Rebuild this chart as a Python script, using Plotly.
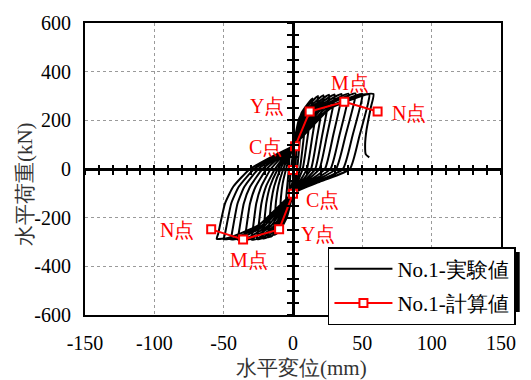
import plotly.graph_objects as go

# ---- experimental hysteresis (No.1-実験値), read cycle by cycle ----
exp_x = [
    0, 1.4, 3, 2.2, 1.5, 0, -1.4, -3, -2.2, -1.5,
    -0.8, 0, 2.7, 6, 5.8, 4.5, 3, 1.5, 0, -2.7, -6, -5.8, -4.5, -3,
    -2.5, 0, 4.5, 10, 9.75, 7.5, 5, 2.5, 0, -4.5, -8.5, -10, -9.8, -8.75, -7.5, -5,
    -2.5, 0, 6.3, 14, 13.65, 10.5, 7, 3.5, 0, -6.3, -11.9, -14, -13.7, -12.25, -10.5, -7,
    -3.5, 0, 8.1, 18, 17.6, 14, 10, 5, 0, -8.1, -15.3, -18, -17.6, -15.75, -13.5, -9,
    -4.5, 0, 9.9, 22, 21.55, 17.5, 13, 6.5, 0, -9.9, -18.7, -22, -21.55, -19.25, -16.5, -11,
    -5.5, 0, 11.7, 26, 25.5, 21, 16, 8, 0, -11.7, -22.1, -26, -25.5, -22.75, -19.5, -13,
    -6.5, 0, 13.5, 30, 29.45, 24.5, 19, 9.5, 0, -13.5, -25.5, -30, -29.45, -26.5, -23, -16,
    -8, 0, 15.75, 35, 34.4, 29, 23, 11.5, 0, -15.75, -29.75, -35, -34.35, -31, -27, -19,
    -9.5, 0, 18, 40, 39.35, 33.5, 27, 13.5, 0, -18, -34, -40, -39.3, -35.5, -31, -22,
    -11, 0, 20.3, 45, 44.3, 38, 31, 15.5, 0, -20.3, -38.25, -45, -44.2, -40, -35, -25,
    -12.5, 0, 22.5, 50, 49.3, 43, 36, 18, 0, -22.5, -42.5, -50, -49.1, -44.5, -39, -28,
    -14, 0, 24.8, 55, 54.3, 48, 41, 20.5, 0, -24.8, -46.8, -55, -54, -49, -43, -31,
    -15.5, 0, 26, 45, 58, 56, 53, 52, 52.5, 55,
]
exp_y = [
    0, 70, 120, 50, 0, -45, -75, -110, -45, 0,
    30, 60, 140, 200, 180, 90, 0, -45, -85, -140, -190, -177, -90, 0,
    45, 90, 209, 260, 234, 117, 0, -50, -100, -200, -241, -245, -228, -120, -61, 0,
    50, 95, 232, 290, 261, 130, 0, -50, -100, -219, -266, -270, -251, -132, -68, 0,
    50, 95, 239, 300, 270, 135, 0, -50, -100, -226, -276, -280, -260, -137, -70, 0,
    50, 95, 241, 303, 273, 136, 0, -50, -100, -230, -281, -285, -265, -140, -71, 0,
    50, 95, 242, 305, 275, 137, 0, -50, -100, -232, -284, -288, -268, -141, -72, 0,
    50, 95, 243, 306, 275, 138, 0, -50, -100, -233, -286, -290, -270, -142, -73, 0,
    50, 95, 244, 308, 277, 139, 0, -50, -100, -233, -286, -290, -270, -142, -73, 0,
    50, 95, 245, 309, 278, 139, 0, -50, -100, -233, -286, -290, -270, -142, -73, 0,
    50, 95, 246, 310, 279, 140, 0, -50, -100, -232, -285, -289, -269, -142, -72, 0,
    50, 95, 244, 308, 277, 139, 0, -50, -100, -232, -284, -288, -268, -141, -72, 0,
    50, 95, 243, 306, 275, 138, 0, -50, -100, -231, -283, -287, -267, -141, -72, 0,
    50, 95, 245, 300, 308, 250, 160, 100, 60, 48,
]

# ---- calculated skeleton (No.1-計算値) ----
calc_x = [-59, -36, -10, 0, 0, 1.5, 12, 37, 61]
calc_y = [-248, -290, -248, -102, -4, 93, 236, 276, 236]

# point labels
lab_text = ["M点", "Y点", "N点", "C点", "C点", "Y点", "N点", "M点"]
lab_x = [41, -18.5, 84, -19.5, 21, 18, -84, -32]
lab_y = [355, 259, 230, 92, -126, -268, -250, -374]

x_ticks = [-150, -100, -50, 0, 50, 100, 150]
x_tick_text = ["-150", "-100", "-50", "0", "50", "100", "150"]
y_ticks = [-600, -400, -200, 0, 200, 400, 600]
y_tick_text = ["-600", "-400", "-200", "0", "200", "400", "600"]

FONT = "Liberation Serif"

fig = go.Figure()
fig.add_trace(go.Scatter(
    x=exp_x, y=exp_y, mode="lines", name="No.1-実験値", legendgroup="a",
    line=dict(color="black", width=2, shape="spline", smoothing=0.5),
))
fig.add_trace(go.Scatter(
    x=calc_x, y=calc_y, mode="lines+markers", name="No.1-計算値", legendgroup="b",
    line=dict(color="#ff0000", width=2),
    marker=dict(symbol="square", size=8, color="white",
                line=dict(color="#ff0000", width=2)),
))
# invisible helpers so the zero-line axes get drawn
for xa, ya in [("x2", "y"), ("x3", "y"), ("x", "y2"), ("x", "y3")]:
    fig.add_trace(go.Scatter(x=[0], y=[0], xaxis=xa, yaxis=ya, mode="markers",
                             marker=dict(opacity=0), showlegend=False,
                             hoverinfo="skip"))

for t, x, y in zip(lab_text, lab_x, lab_y):
    fig.add_annotation(x=x, y=y, text=t, showarrow=False,
                       font=dict(family=FONT, size=20, color="#ff0000"))

# axis titles
fig.add_annotation(xref="paper", yref="paper", x=0.5216, y=-0.1827,
                   text="水平変位(mm)", showarrow=False, xanchor="center",
                   yanchor="middle", font=dict(family=FONT, size=21, color="#333"))
fig.add_annotation(xref="paper", yref="paper", x=-0.1442, y=0.4485,
                   text="水平荷重(kN)", showarrow=False, textangle=-90,
                   xanchor="center", yanchor="middle",
                   font=dict(family=FONT, size=21, color="#333"))

tickfont = dict(family=FONT, size=20, color="black")
grid = dict(showgrid=True, gridcolor="#9a9a9a", gridwidth=1.2, griddash="dot")
fig.update_layout(
    width=531, height=380,
    margin=dict(l=85, r=30, t=14, b=65),
    paper_bgcolor="white", plot_bgcolor="white",
    font=dict(family=FONT, size=19, color="black"),
    xaxis=dict(range=[-150, 150], tickvals=x_ticks, ticktext=x_tick_text,
               zeroline=False, tickfont=tickfont,
               showline=True, linecolor="black", linewidth=2, mirror=True,
               ticks="", ticklabelstandoff=9, **grid),
    yaxis=dict(range=[-600, 600], tickvals=y_ticks, ticktext=y_tick_text,
               zeroline=False, tickfont=tickfont,
               showline=True, linecolor="black", linewidth=2, mirror=True,
               ticks="", ticklabelstandoff=8, **grid),
    xaxis2=dict(overlaying="x", anchor="free", position=0.5, range=[-150, 150],
                showline=True, linecolor="black", linewidth=2.5,
                ticks="outside", dtick=10, tick0=0, ticklen=4, tickwidth=2,
                tickcolor="black", showticklabels=False, showgrid=False,
                zeroline=False),
    xaxis3=dict(overlaying="x", anchor="free", position=0.5, range=[-150, 150],
                showline=False, ticks="inside", dtick=10, tick0=0, ticklen=4,
                tickwidth=2, tickcolor="black", showticklabels=False,
                showgrid=False, zeroline=False),
    yaxis2=dict(overlaying="y", anchor="free", position=0.5, range=[-600, 600],
                showline=True, linecolor="black", linewidth=2.5,
                ticks="outside", dtick=50, tick0=0, ticklen=5, tickwidth=2,
                tickcolor="black", showticklabels=False, showgrid=False,
                zeroline=False),
    yaxis3=dict(overlaying="y", anchor="free", position=0.5, range=[-600, 600],
                showline=False, ticks="inside", dtick=50, tick0=0, ticklen=5,
                tickwidth=2, tickcolor="black", showticklabels=False,
                showgrid=False, zeroline=False),
    legend=dict(x=0.584, y=0.2326, xanchor="left", yanchor="top",
                bgcolor="white", bordercolor="black", borderwidth=1.5,
                font=dict(family=FONT, size=21, color="black"),
                tracegroupgap=4, itemwidth=58),
    showlegend=True,
)
# legend drop shadow
fig.add_shape(type="rect", xref="paper", yref="paper",
              x0=0.596, x1=1.045, y0=0.01, y1=0.216,
              fillcolor="black", line=dict(width=0), layer="above")

fig.write_html("out.html")
